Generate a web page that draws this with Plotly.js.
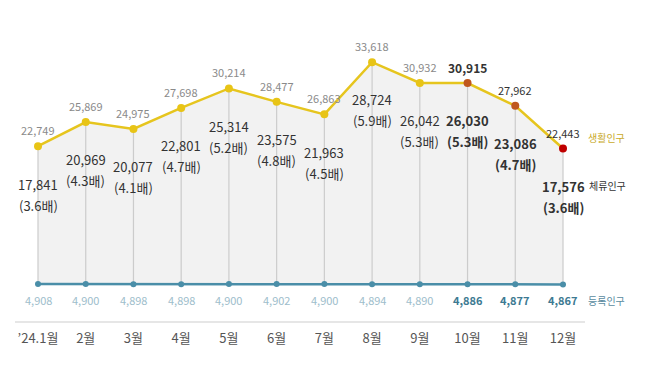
<!DOCTYPE html>
<html><head><meta charset="utf-8">
<script src="https://cdn.plot.ly/plotly-3.0.1.min.js"></script>
<style>html,body{margin:0;padding:0;background:#fff}#chart{width:650px;height:380px}</style>
</head><body><div id="chart"></div>
<script>
const months = ["’24.1월","2월","3월","4월","5월","6월","7월","8월","9월","10월","11월","12월"];
const living = [22749,25869,24975,27698,30214,28477,26863,33618,30932,30915,27962,22443];
const stay = [17841,20969,20077,22801,25314,23575,21963,28724,26042,26030,23086,17576];
const ratio = [3.6,4.3,4.1,4.7,5.2,4.8,4.5,5.9,5.3,5.3,4.7,3.6];
const registered = [4908,4900,4898,4898,4900,4902,4900,4894,4890,4886,4877,4867];
const seriesNames = ["생활인구","체류인구","등록인구"];

const HL = 9; // highlighted months start
const FONT = "Noto Sans CJK KR, sans-serif";
const fmt = v => v.toLocaleString("en-US");

const vx = [], vy = [];
months.forEach((m,i)=>{ vx.push(m,m,null); vy.push(living[i],registered[i],null); });

const markerColors = months.map((m,i)=> i===months.length-1 ? "#c00000" : (i>=HL ? "#c0571d" : "#e8c416"));

const traces = [
  {x: months, y: registered, type:"scatter", mode:"lines", line:{color:"rgba(0,0,0,0)", width:0}, hoverinfo:"skip", showlegend:false},
  {x: months, y: living, type:"scatter", mode:"lines", fill:"tonexty", fillcolor:"#f2f2f2", line:{color:"rgba(0,0,0,0)", width:0}, hoverinfo:"skip", showlegend:false},
  {x: vx, y: vy, type:"scatter", mode:"lines", line:{color:"#cccccc", width:1.2}, hoverinfo:"skip", showlegend:false},
  {x: months, y: registered, name: seriesNames[2], type:"scatter", mode:"lines+markers", line:{color:"#4a8ea8", width:2.5}, marker:{color:"#4a8ea8", size:6}, showlegend:false},
  {x: months, y: living, name: seriesNames[0], type:"scatter", mode:"lines+markers", line:{color:"#e6c51e", width:2.5}, marker:{color:markerColors, size:8}, showlegend:false}
];

const ann = [];
months.forEach((m,i)=>{
  const hl = i>=HL;
  ann.push({x:m, y:living[i], xref:"x", yref:"y", text: fmt(living[i]), showarrow:false, yshift:16,
    font:{family:FONT, size: i===HL?12:11, color: hl?"#333":"#8a8a8a", weight: i===HL?"bold":"normal"}});
  ann.push({x:m, y:stay[i], xref:"x", yref:"y", text: fmt(stay[i]), showarrow:false, yshift:0,
    font:{family:FONT, size:13, color:"#333", weight: hl?"bold":"normal"}});
  ann.push({x:m, y:stay[i], xref:"x", yref:"y", text: "("+ratio[i].toFixed(1)+"배)", showarrow:false, yshift:-21,
    font:{family:FONT, size:13, color:"#333", weight: hl?"bold":"normal"}});
  ann.push({x:m, y:registered[i], xref:"x", yref:"y", text: fmt(registered[i]), showarrow:false, yshift:-16,
    font:{family:FONT, size:11, color: hl?"#3d7a92":"#9dbdcb", weight: hl?"bold":"normal"}});
});
const last = months.length-1;
ann.push({x:months[last], y:living[last], xref:"x", yref:"y", text:seriesNames[0], showarrow:false, xshift:43, yshift:11,
  font:{family:FONT, size:10, color:"#c9aa2a"}});
ann.push({x:months[last], y:stay[last], xref:"x", yref:"y", text:seriesNames[1], showarrow:false, xshift:44, yshift:1,
  font:{family:FONT, size:10, color:"#333"}});
ann.push({x:months[last], y:registered[last], xref:"x", yref:"y", text:seriesNames[2], showarrow:false, xshift:43, yshift:-16,
  font:{family:FONT, size:10, color:"#5a8ba0"}});

const layout = {
  width:650, height:380,
  margin:{l:0, r:0, t:0, b:59},
  paper_bgcolor:"#fff", plot_bgcolor:"#fff",
  showlegend:false,
  xaxis:{type:"category", domain:[15/650, 585/650], range:[-0.482, 11.461], showgrid:false, zeroline:false,
    showline:true, linecolor:"#e6e6e6", linewidth:2, ticks:"", tickfont:{family:FONT, size:13, color:"#555"}, ticklabelstandoff:4, fixedrange:true},
  yaxis:{range:[129, 41656], visible:false, showgrid:false, zeroline:false, fixedrange:true},
  annotations: ann
};
Plotly.newPlot("chart", traces, layout, {displayModeBar:false, staticPlot:true});
</script></body></html>
